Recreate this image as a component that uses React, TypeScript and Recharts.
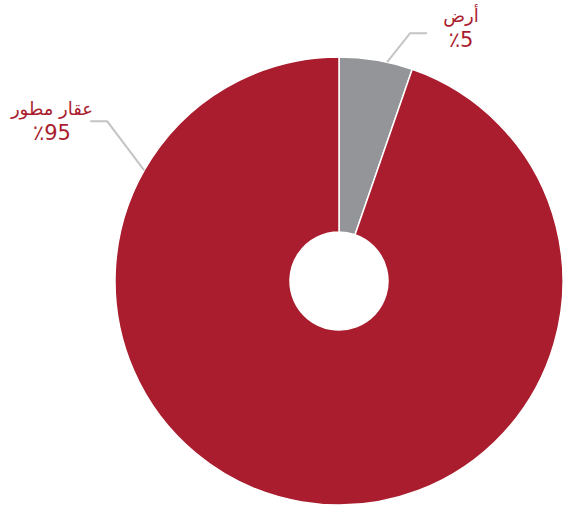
import { PieChart, Pie, Cell } from "recharts";

const names = ["أرض", "عقار مطور"];
const values = [5.3, 94.7];
const shownPct = ["٪5", "٪95"];
const colors = ["#939598", "#a91d2e"];
// angle (deg) on the rim where each leader line starts, and its elbow offset
const labelAngles = [77.6, 150.4];
const elbows = [
  { dx: 23, dy: -29, len: 17, tx: 461, nameDy: -11, pctDy: 14 },
  { dx: -37, dy: -49, len: -17, tx: 52, nameDy: -6, pctDy: 19 },
];

const data = names.map((name, i) => ({ name, value: values[i] }));
const RAD = Math.PI / 180;

function renderLabel(props: any) {
  const { cx, cy, outerRadius, index } = props;
  const a = labelAngles[index] * RAD;
  const x0 = cx + outerRadius * Math.cos(a);
  const y0 = cy - outerRadius * Math.sin(a);
  const e = elbows[index];
  const x1 = x0 + e.dx;
  const y1 = y0 + e.dy;
  const x2 = x1 + e.len;
  return (
    <g key={`lbl-${index}`}>
      <polyline
        points={`${x0},${y0} ${x1},${y1} ${x2},${y1}`}
        fill="none"
        stroke="#c4c4c4"
        strokeWidth={2}
      />
      <text x={e.tx} y={y1 + e.nameDy} textAnchor="middle" fill="#a91d2e" fontSize={18} fontFamily="DejaVu Sans">
        {names[index]}
      </text>
      <text x={e.tx} y={y1 + e.pctDy} textAnchor="middle" fill="#a91d2e" fontSize={21} fontFamily="DejaVu Sans">
        {shownPct[index]}
      </text>
    </g>
  );
}

export default function App() {
  return (
    <div style={{ position: "absolute", left: 0, top: 0, width: 569, height: 509, background: "#fff" }}>
      <PieChart width={569} height={509} margin={{ top: 0, right: 0, bottom: 0, left: 0 }}>
        <Pie
          data={data}
          dataKey="value"
          cx={339}
          cy={281}
          innerRadius={49}
          outerRadius={224}
          startAngle={90}
          endAngle={-270}
          stroke="#fff"
          strokeWidth={1.5}
          label={renderLabel}
          labelLine={false}
          isAnimationActive={false}
        >
          {data.map((d, i) => (
            <Cell key={d.name} fill={colors[i]} />
          ))}
        </Pie>
      </PieChart>
    </div>
  );
}
